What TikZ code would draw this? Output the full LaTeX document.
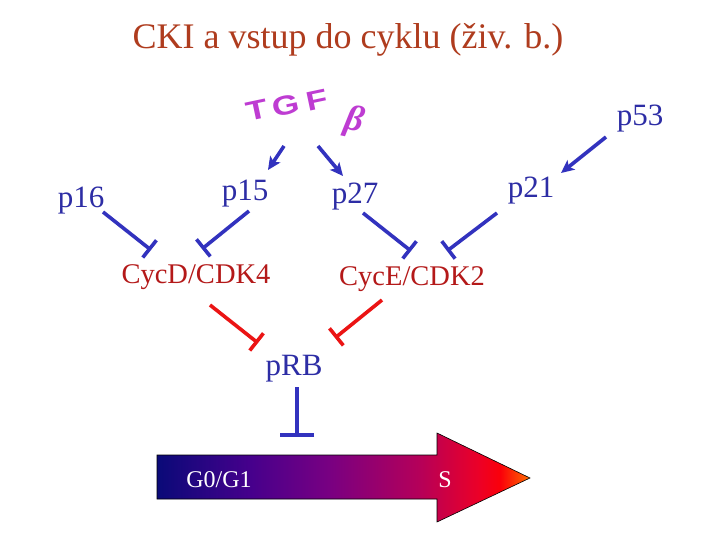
\documentclass[tikz,border=0pt]{standalone}
\usepackage{fontspec}
\usepackage{graphicx}
\setmainfont{Liberation Serif}
\setsansfont{Liberation Sans}
\usetikzlibrary{arrows.meta}
\definecolor{titlered}{RGB}{175,60,30}
\definecolor{cycred}{RGB}{180,25,25}
\definecolor{pblue}{RGB}{45,45,165}
\definecolor{lineblue}{RGB}{50,50,190}
\definecolor{inhred}{RGB}{235,20,20}
\definecolor{tgfmag}{RGB}{190,60,210}
\pgfdeclarehorizontalshading{cycshade}{100bp}{%
  color(0bp)=(rgb,255:red,10;green,10;blue,120);
  color(25bp)=(rgb,255:red,10;green,10;blue,120);
  color(37.5bp)=(rgb,255:red,70;green,0;blue,140);
  color(48bp)=(rgb,255:red,120;green,0;blue,130);
  color(60bp)=(rgb,255:red,180;green,0;blue,90);
  color(68bp)=(rgb,255:red,235;green,0;blue,40);
  color(71bp)=(rgb,255:red,250;green,0;blue,10);
  color(75bp)=(rgb,255:red,255;green,110;blue,0);
  color(100bp)=(rgb,255:red,255;green,110;blue,0)}
\newcommand{\wideletter}[1]{\scalebox{1.3}[1]{#1}}
\begin{document}
\begin{tikzpicture}[x=1pt,y=-1pt,
  lbl/.style={text=pblue,font=\fontsize{31}{34}\selectfont,inner sep=0pt},
  cyc/.style={text=cycred,font=\fontsize{28.5}{31}\selectfont,inner sep=0pt},
  act/.style={draw=lineblue,line width=3.6pt,-{Stealth[length=13pt,width=12pt,inset=3pt]}},
  inhb/.style={draw=lineblue,line width=3.6pt,-{Bar[width=22pt,line width=3.6pt]}},
  inhr/.style={draw=inhred,line width=3.6pt,-{Bar[width=22pt,line width=3.6pt]}},
  tgf/.style={text=tgfmag,font=\sffamily\bfseries\fontsize{27}{27}\selectfont,inner sep=0pt,text height=0.72em,text depth=0pt,rotate=12}]
\useasboundingbox (0,0) rectangle (720,540);
\fill[white] (0,0) rectangle (720,540);

% title
\node[text=titlered,font=\fontsize{36}{40}\selectfont,inner sep=0pt] (title) at (348,40) {CKI a vstup do cyklu (živ. b.)};

% TGF beta wordart
\node[tgf] (tgfT) at (258,116) {\wideletter{T}};
\node[tgf] (tgfG) at (287,111) {\wideletter{G}};
\node[tgf] (tgfF) at (318,106) {\wideletter{F}};
\node[font=\bfseries\itshape\fontsize{36}{36}\selectfont,text=tgfmag,inner sep=0pt,rotate=-12] (beta) at (354,122) {β};

% labels
\node[lbl] (p53) at (640,119) {p53};
\node[lbl] (p16) at (81,201) {p16};
\node[lbl] (p15) at (245,194) {p15};
\node[lbl] (p27) at (355,197) {p27};
\node[lbl] (p21) at (531,191) {p21};
\node[cyc] (cycd) at (196,277) {CycD/CDK4};
\node[cyc] (cyce) at (412,279) {CycE/CDK2};
\node[lbl] (prb) at (294,369) {pRB};

% coordinates
\coordinate (a1s) at (284,146); \coordinate (a1e) at (268,170);
\coordinate (a2s) at (318,146); \coordinate (a2e) at (343,176);
\coordinate (a3s) at (606,137); \coordinate (a3e) at (561,173);
\coordinate (i16s) at (103,212); \coordinate (i16e) at (151,250);
\coordinate (i15s) at (249,211); \coordinate (i15e) at (202,249);
\coordinate (i27s) at (363,213); \coordinate (i27e) at (411,251);
\coordinate (i21s) at (497,213); \coordinate (i21e) at (447,251);
\coordinate (rds) at (210,305); \coordinate (rde) at (258,343);
\coordinate (res) at (382,300); \coordinate (ree) at (335,338);
\coordinate (rbs) at (297,387); \coordinate (rbe) at (297,437);

% connectors
\draw[act] (a1s) -- (a1e);
\draw[act] (a2s) -- (a2e);
\draw[act] (a3s) -- (a3e);
\draw[inhb] (i16s) -- (i16e);
\draw[inhb] (i15s) -- (i15e);
\draw[inhb] (i27s) -- (i27e);
\draw[inhb] (i21s) -- (i21e);
\draw[inhr] (rds) -- (rde);
\draw[inhr] (res) -- (ree);
\draw[draw=lineblue,line width=3.6pt,-{Bar[width=34pt,line width=3.6pt]}] (rbs) -- (rbe);

% big arrow
\draw[shading=cycshade,draw=black,line width=0.6pt]
  (157,455) -- (437,455) -- (437,433) -- (530,478) -- (437,522) -- (437,499) -- (157,499) -- cycle;
\node[text=white,font=\fontsize{24}{26}\selectfont,inner sep=0pt] (g0) at (219,480) {G0/G1};
\node[text=white,font=\fontsize{24}{26}\selectfont,inner sep=0pt] (s) at (445,480) {S};
\end{tikzpicture}
\end{document}
